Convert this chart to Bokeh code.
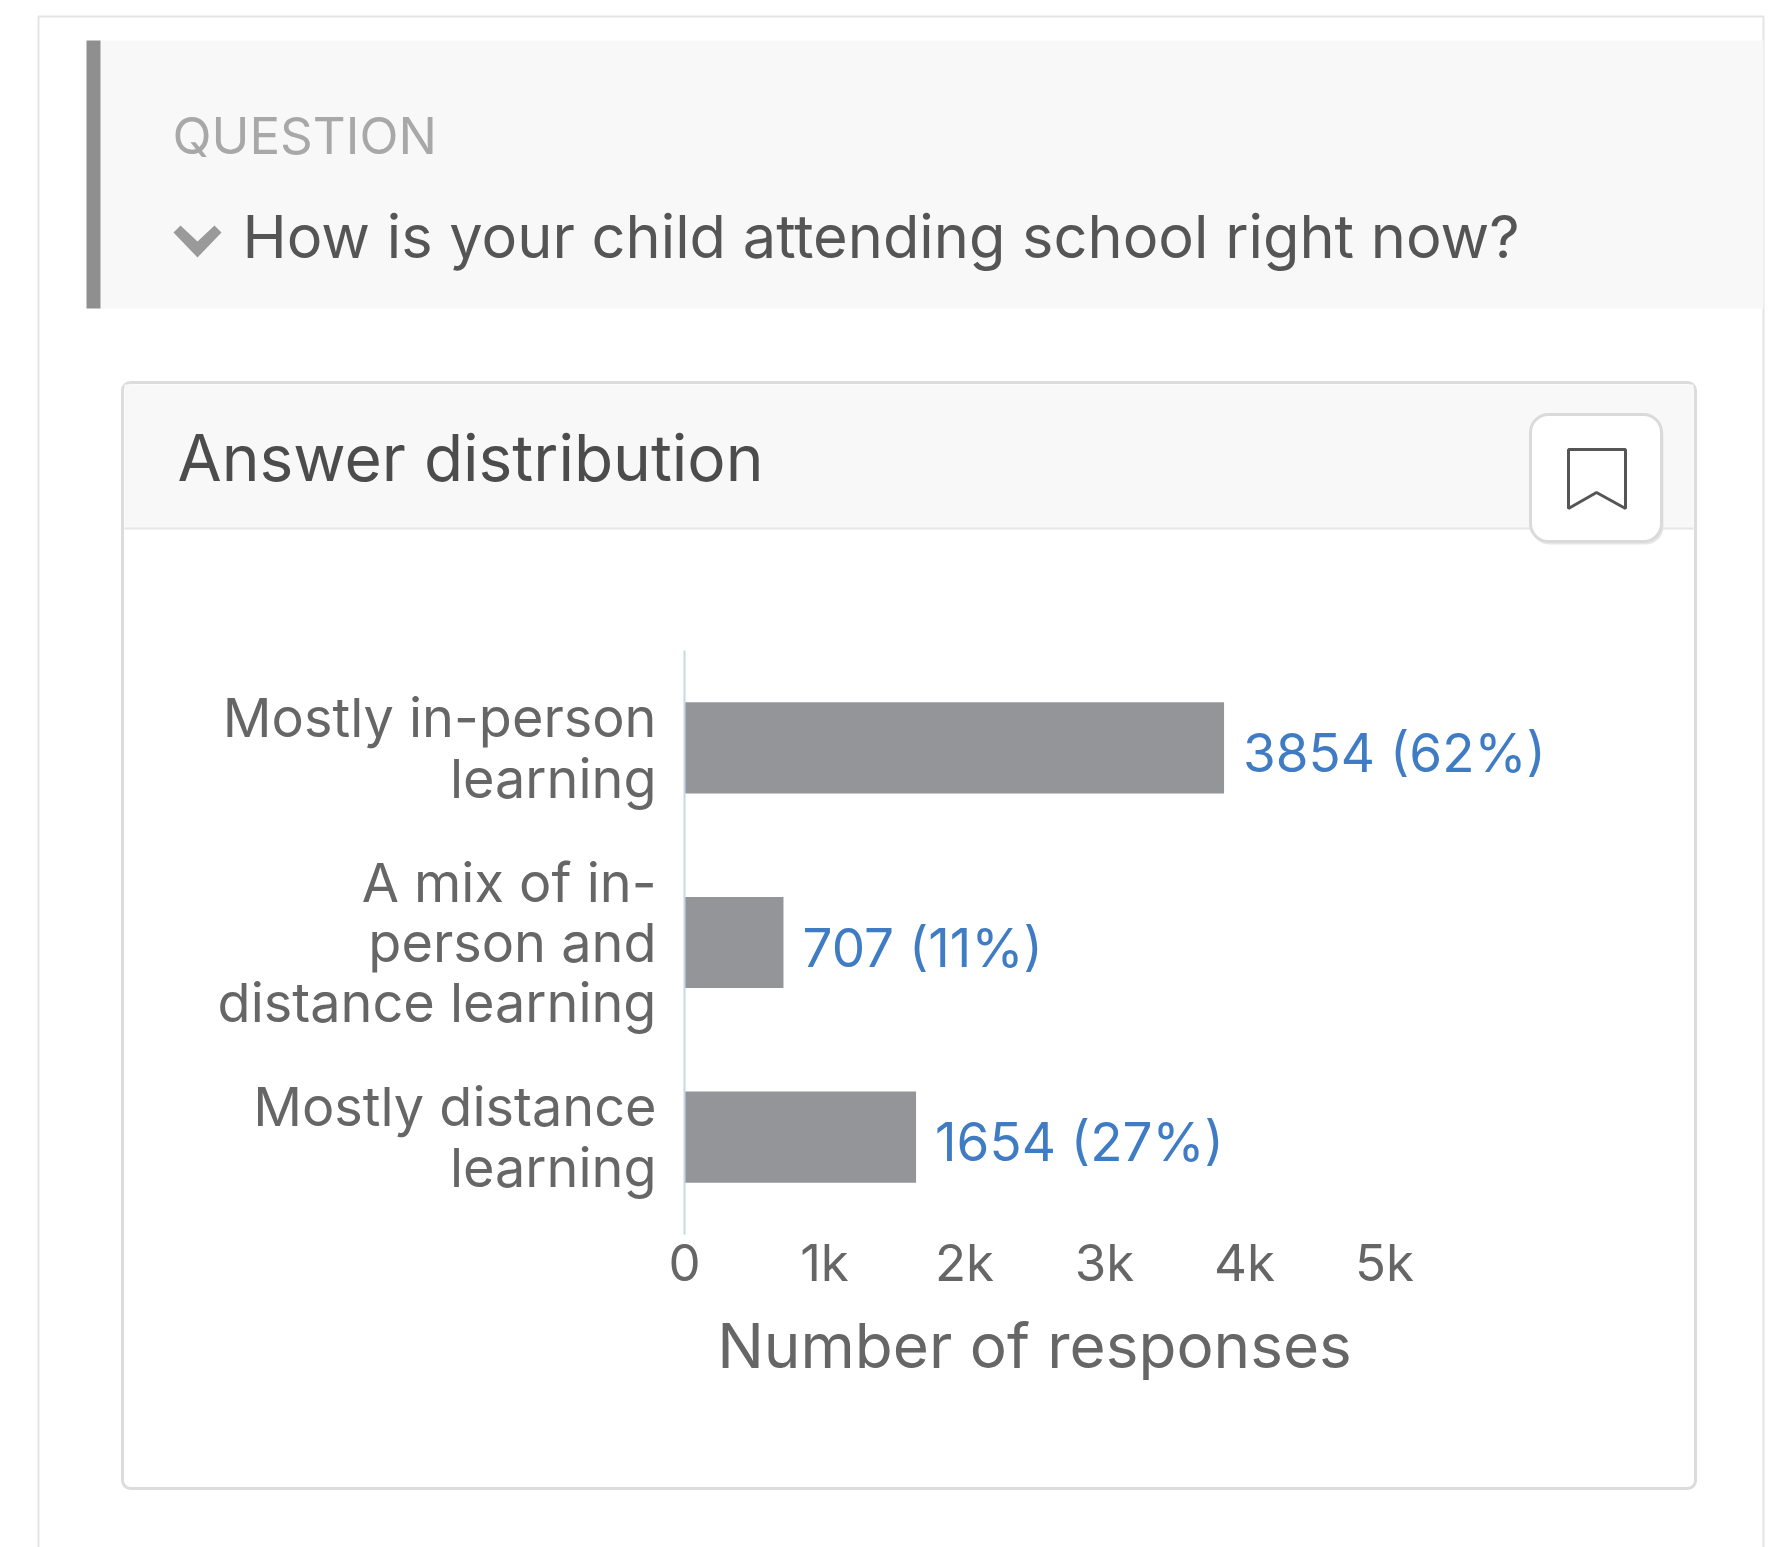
from bokeh.plotting import figure
from bokeh.models import (BoxAnnotation, PolyAnnotation, Label, ColumnDataSource,
                          FixedTicker, FactorRange, Range1d)
from bokeh.core.properties import value
from bokeh.embed import file_html
from bokeh.resources import INLINE

# ---- data ----
categories = ["Mostly in-person\nlearning",
              "A mix of in-\nperson and\ndistance learning",
              "Mostly distance\nlearning"]
responses = [3854, 707, 1654]
percents = [62, 11, 27]
tick_values = [0, 1000, 2000, 3000, 4000, 5000]
tick_labels = ["0", "1k", "2k", "3k", "4k", "5k"]
eyebrow = "QUESTION"
question = "How is your child attending school right now?"
panel_title = "Answer distribution"
x_title = "Number of responses"

FONT = "Inter"
W, H = 1777, 1547

bar_labels = [f"{r} ({q}%)" for r, q in zip(responses, percents)]
src = ColumnDataSource(dict(cat=categories, val=responses, label=bar_labels))

# ---- backdrop: the page's card, in page pixels ----
bg = figure(width=W, height=H, output_backend="svg", toolbar_location=None,
            x_range=Range1d(0, W), y_range=Range1d(H, 0),
            x_axis_location=None, y_axis_location=None, min_border=0,
            outline_line_color=None, background_fill_color="white", border_fill_color="white")
bg.grid.visible = False


def box(l, t, r, b, fill="white", line=None, lw=1, radius=0):
    bg.add_layout(BoxAnnotation(left=l, right=r, top=t, bottom=b,
                                fill_color=fill, fill_alpha=1, line_color=line, line_width=lw, line_alpha=1,
                                border_radius=radius, level="underlay", editable=False))


def poly(xs, ys, fill=None, line=None, lw=2):
    bg.add_layout(PolyAnnotation(xs=xs, ys=ys, fill_color=fill, fill_alpha=1 if fill else 0,
                                 line_color=line, line_width=lw, line_alpha=1, level="underlay"))


def text(x, y, s, size, color, align="left"):
    bg.add_layout(Label(x=x, y=y, text=s, text_font=FONT, text_font_size=size, text_color=color,
                        text_baseline="middle", text_align=align))


box(38, 16, 1763, 1600, fill="white", line="#e4e4e4", lw=2)
box(100, 40, 1763, 308, fill="#f8f8f8")
box(86, 40, 100, 308, fill="#8f8f8f")
text(172, 135, eyebrow, "51px", "#a8a8a8")
poly([173, 180, 197, 214, 221, 197], [232, 225, 241, 225, 232, 257], fill="#9a9a9a")
text(242, 235, question, "59.5px", "#555555")
box(122, 382, 1695, 1488, fill="white", line="#dcdcdc", lw=3, radius=8)
box(124, 384, 1693, 528, fill="#f8f8f8")
box(124, 527, 1693, 529, fill="#e6e6e6")
text(177, 457, panel_title, "64px", "#4c4c4c")
box(1531, 417, 1663, 544, fill="#e6e6e6", radius=18)
box(1530, 414, 1661, 541, fill="white", line="#dadada", lw=3, radius=18)
poly([1568, 1625, 1625, 1596, 1568], [449, 449, 508, 492, 508], line="#555555", lw=3)
text(1034, 1345, x_title, "62px", "#666666", align="center")

# ---- chart, laid over the backdrop ----
F_L, F_R, F_T, F_B = 684, 1664, 650, 1234
p = figure(width=W, height=H, output_backend="svg", toolbar_location=None,
           x_range=Range1d(0, 7000),
           y_range=FactorRange(factors=categories[::-1], range_padding=0, factor_padding=0, group_padding=0),
           min_border_left=F_L, min_border_right=W - F_R,
           min_border_top=F_T, min_border_bottom=H - F_B,
           outline_line_color=None, background_fill_color=None, border_fill_color=None,
           styles={"position": "absolute", "left": "0px", "top": "0px"})
p.grid.visible = False

p.hbar(y="cat", right="val", left=0, height=0.468, source=src,
       fill_color="#939598", line_color=None)
p.text(x="val", y="cat", text="label", source=src, x_offset=19, y_offset=5,
       text_font=value(FONT), text_font_size="53px", text_color="#3f7cc4",
       text_baseline="middle", text_align="left")

xa = p.xaxis[0]
xa.ticker = FixedTicker(ticks=tick_values)
xa.bounds = (0, 5000)
xa.major_label_overrides = {v: t for v, t in zip(tick_values, tick_labels)}
xa.axis_line_color = None
xa.major_tick_line_color = None
xa.minor_tick_line_color = None
xa.major_label_text_font = FONT
xa.major_label_text_font_size = "51px"
xa.major_label_text_color = "#666666"
xa.major_label_standoff = -9

ya = p.yaxis[0]
ya.axis_line_color = "#c4d8e8"
ya.axis_line_width = 2
ya.major_tick_line_color = None
ya.minor_tick_line_color = None
ya.major_label_text_font = FONT
ya.major_label_text_font_size = "54px"
ya.major_label_text_color = "#666666"
ya.major_label_text_line_height = 0.93
ya.major_label_standoff = 22

open("out.html", "w").write(file_html([bg, p], INLINE))
